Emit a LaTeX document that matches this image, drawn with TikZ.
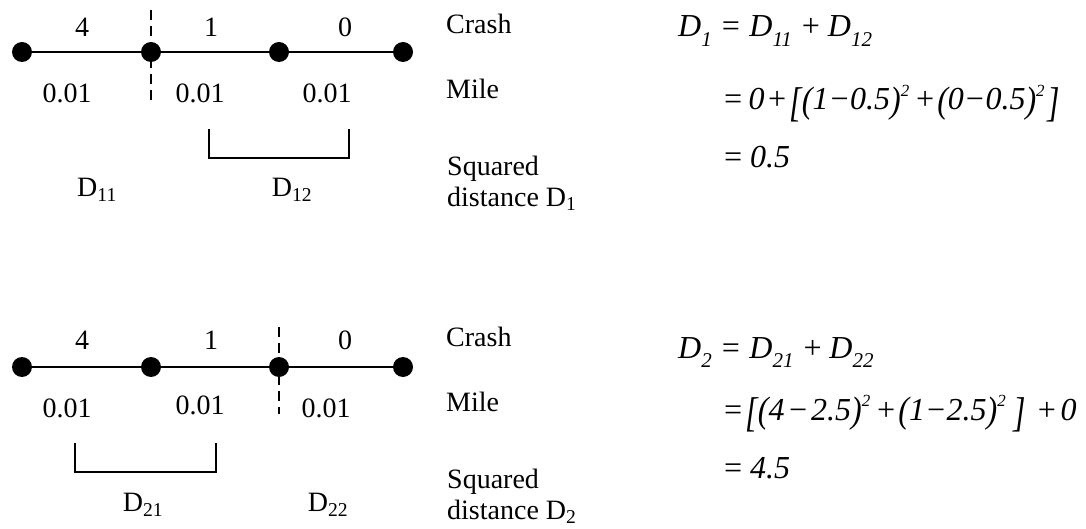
\documentclass[tikz,border=0pt]{standalone}
\usepackage{fontspec}
\usepackage{graphicx}
\setmainfont{Liberation Serif}
\newcommand\bigL{\raisebox{-0.2em}{\scalebox{1}[1.3]{[}}}
\newcommand\bigR{\raisebox{-0.2em}{\scalebox{1}[1.3]{]}}}
\newcommand\parL{\raisebox{-0.09em}{\scalebox{1}[1.15]{(}}}
\newcommand\parR{\raisebox{-0.09em}{\scalebox{1}[1.15]{)}}}
\newcommand\sq{\raisebox{0.42em}{\fontsize{17}{17}\selectfont\itshape 2}}
\newcommand\Dsub[1]{\textit{D}\raisebox{-0.3em}{\fontsize{21}{21}\selectfont\itshape #1}}
\newcommand\gap[1]{\hspace{#1em}}
\begin{document}
\begin{tikzpicture}[x=1pt,y=-1pt,
  dot/.style={circle,fill=black,inner sep=0pt,minimum size=20pt},
  seg/.style={line width=2pt},
  cut/.style={line width=2pt,dash pattern=on 10pt off 6pt},
  brk/.style={line width=2pt},
  lbl/.style={font=\fontsize{28}{33}\selectfont,inner sep=0pt},
  side/.style={font=\fontsize{28}{30}\selectfont,inner sep=0pt,anchor=west,align=left},
  eq/.style={font=\fontsize{32}{34}\selectfont\itshape,inner sep=0pt,anchor=base west}]
\useasboundingbox (0,0) rectangle (1086,529);
% ---------- top ----------
\node[dot] (a1) at (22,52) {};
\node[dot] (a2) at (151,52) {};
\node[dot] (a3) at (279,52) {};
\node[dot] (a4) at (403,52) {};
\draw[seg] (a1) -- (a2) -- (a3) -- (a4);
\coordinate (ac1) at (151,10);
\coordinate (ac2) at (151,100);
\draw[cut] (ac1) -- (ac2);
\node[lbl] (ac4) at (82,27) {4};
\node[lbl] (ac5) at (211,27) {1};
\node[lbl] (ac6) at (345,27) {0};
\node[lbl] (am1) at (67,93) {0.01};
\node[lbl] (am2) at (200,93) {0.01};
\node[lbl] (am3) at (327,93) {0.01};
\coordinate (ab1) at (209,129);
\coordinate (ab2) at (209,158);
\coordinate (ab3) at (349,158);
\coordinate (ab4) at (349,129);
\draw[brk] (ab1) -- (ab2) -- (ab3) -- (ab4);
\node[lbl] (ad1) at (97,190) {D\textsubscript{11}};
\node[lbl] (ad2) at (292,190) {D\textsubscript{12}};
\node[side] (as1) at (446,24) {Crash};
\node[side] (as2) at (446,89) {Mile};
\node[side] (as3) at (447,169) {Squared};
\node[side] (as4) at (447,199) {distance D\textsubscript{1}};
\node[eq] (ae1) at (678,37) {\Dsub{1}\gap{0.25}=\gap{0.25}\Dsub{11}\gap{0.25}+\gap{0.2}\Dsub{12}};
\node[eq] (ae2) at (722,110) {=\gap{0.15}0\gap{0.05}+\gap{0.05}\bigL\parL 1−0.5\parR\sq\gap{0.15}+\gap{0.05}\parL 0−0.5\parR\sq\gap{0.1}\bigR};
\node[eq] (ae3) at (722,168) {=\gap{0.2}0.5};
% ---------- bottom ----------
\node[dot] (b1) at (22,367) {};
\node[dot] (b2) at (151,367) {};
\node[dot] (b3) at (279,367) {};
\node[dot] (b4) at (403,367) {};
\draw[seg] (b1) -- (b2) -- (b3) -- (b4);
\coordinate (bc1) at (279,327);
\coordinate (bc2) at (279,414);
\draw[cut] (bc1) -- (bc2);
\node[lbl] (bc4) at (82,340) {4};
\node[lbl] (bc5) at (211,340) {1};
\node[lbl] (bc6) at (345,340) {0};
\node[lbl] (bm1) at (67,408) {0.01};
\node[lbl] (bm2) at (200,405) {0.01};
\node[lbl] (bm3) at (326,408) {0.01};
\coordinate (bb1) at (75,443);
\coordinate (bb2) at (75,472);
\coordinate (bb3) at (216,472);
\coordinate (bb4) at (216,443);
\draw[brk] (bb1) -- (bb2) -- (bb3) -- (bb4);
\node[lbl] (bd1) at (143,505) {D\textsubscript{21}};
\node[lbl] (bd2) at (328,505) {D\textsubscript{22}};
\node[side] (bs1) at (446,337) {Crash};
\node[side] (bs2) at (446,402) {Mile};
\node[side] (bs3) at (447,482) {Squared};
\node[side] (bs4) at (447,512) {distance D\textsubscript{2}};
\node[eq] (be1) at (678,358) {\Dsub{2}\gap{0.25}=\gap{0.25}\Dsub{21}\gap{0.25}+\gap{0.2}\Dsub{22}};
\node[eq] (be2) at (722,420) {=\gap{0.05}\bigL\parL 4\gap{0.08}−\gap{0.08}2.5\parR\sq\gap{0.15}+\gap{0.05}\parL 1−2.5\parR\sq\gap{0.25}\bigR\gap{0.3}+\gap{0.1}0};
\node[eq] (be3) at (722,478) {=\gap{0.2}4.5};
\end{tikzpicture}
\end{document}
